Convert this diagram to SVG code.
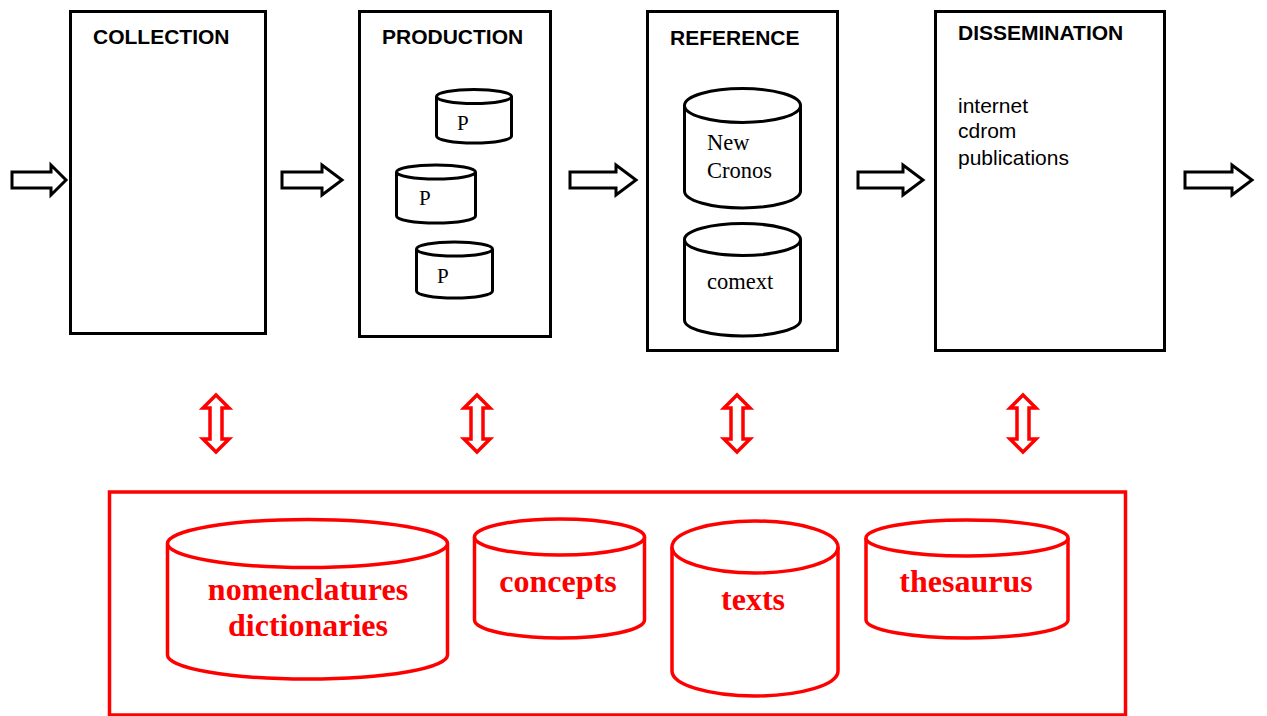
<svg xmlns="http://www.w3.org/2000/svg" width="1267" height="716" viewBox="0 0 1267 716">
<style>
.box{fill:#fff;stroke:#000;stroke-width:3}
.title{font-family:"Liberation Sans",Arial,sans-serif;font-weight:bold;font-size:21px;fill:#000}
.list{font-family:"Liberation Sans",Arial,sans-serif;font-size:21px;fill:#000}
.cyl{fill:#fff;stroke:#000;stroke-width:3}
.ctext{font-family:"Liberation Serif","Times New Roman",serif;font-size:22.5px;fill:#000}
.ptext{font-family:"Liberation Serif","Times New Roman",serif;font-size:21px;fill:#000}
.rcyl{fill:#fff;stroke:#f00;stroke-width:3.5}
.rtext{font-family:"Liberation Serif","Times New Roman",serif;font-weight:bold;font-size:32px;fill:#f00;text-anchor:middle}
.barrow{fill:#fff;stroke:#000;stroke-width:3;stroke-linejoin:miter}
.rarrow{fill:#fff;stroke:#f00;stroke-width:3.5;stroke-linejoin:miter}
</style>
<rect width="1267" height="716" fill="#fff"/>
<g id="collection">
<rect class="box" x="70.5" y="11.5" width="195" height="322"/>
<text class="title" x="93" y="44">COLLECTION</text>
</g>
<g id="production">
<rect class="box" x="359.5" y="11.5" width="191" height="325"/>
<text class="title" x="382" y="44">PRODUCTION</text>
<g id="p1">
<path class="cyl" d="M436.5,96.5 L436.5,136 A37.5,7 0 0 0 511.5,136 L511.5,96.5"/>
<ellipse class="cyl" cx="474" cy="96.5" rx="37.5" ry="7"/>
<text class="ptext" x="457" y="130">P</text>
</g>
<g id="p2">
<path class="cyl" d="M396.5,172 L396.5,216 A39.5,7 0 0 0 475.5,216 L475.5,172"/>
<ellipse class="cyl" cx="436" cy="172" rx="39.5" ry="7"/>
<text class="ptext" x="419" y="205">P</text>
</g>
<g id="p3">
<path class="cyl" d="M416.5,249 L416.5,291 A38,7 0 0 0 492.5,291 L492.5,249"/>
<ellipse class="cyl" cx="454.5" cy="249" rx="38" ry="7"/>
<text class="ptext" x="437" y="283">P</text>
</g>
</g>
<g id="reference">
<rect class="box" x="647.5" y="11.5" width="190" height="339"/>
<text class="title" x="670" y="45">REFERENCE</text>
<g id="newcronos">
<path class="cyl" d="M684.5,105.5 L684.5,191 A58,17 0 0 0 800.5,191 L800.5,105.5"/>
<ellipse class="cyl" cx="742.5" cy="105.5" rx="58" ry="17"/>
<text class="ctext" x="707" y="150">New</text>
<text class="ctext" x="707" y="178">Cronos</text>
</g>
<g id="comext">
<path class="cyl" d="M684.5,239.5 L684.5,320 A58,16 0 0 0 800.5,320 L800.5,239.5"/>
<ellipse class="cyl" cx="742.5" cy="239.5" rx="58" ry="16"/>
<text class="ctext" x="707" y="289">comext</text>
</g>
</g>
<g id="dissemination">
<rect class="box" x="935.5" y="11.5" width="229" height="339"/>
<text class="title" x="958" y="40">DISSEMINATION</text>
<text class="list" x="958" y="113">internet</text>
<text class="list" x="958" y="138">cdrom</text>
<text class="list" x="958" y="165">publications</text>
</g>
<g id="metadata">
<rect x="109.5" y="492" width="1016" height="223" fill="none" stroke="#f00" stroke-width="3.5"/>
<g id="nomenclatures">
<path class="rcyl" d="M167.5,543.5 L167.5,655 A140,24 0 0 0 447.5,655 L447.5,543.5"/>
<ellipse class="rcyl" cx="307.5" cy="543.5" rx="140" ry="24"/>
<text class="rtext" x="308" y="600">nomenclatures</text>
<text class="rtext" x="308" y="636">dictionaries</text>
</g>
<g id="concepts">
<path class="rcyl" d="M474.5,537 L474.5,620 A85,18 0 0 0 644.5,620 L644.5,537"/>
<ellipse class="rcyl" cx="559.5" cy="537" rx="85" ry="18"/>
<text class="rtext" x="558" y="592">concepts</text>
</g>
<g id="texts">
<path class="rcyl" d="M672,547 L672,671 A83,25 0 0 0 838,671 L838,547"/>
<ellipse class="rcyl" cx="755" cy="547" rx="83" ry="26"/>
<text class="rtext" x="753" y="610">texts</text>
</g>
<g id="thesaurus">
<path class="rcyl" d="M866,538 L866,620 A101,18 0 0 0 1068,620 L1068,538"/>
<ellipse class="rcyl" cx="967" cy="538" rx="101" ry="18"/>
<text class="rtext" x="966" y="592">thesaurus</text>
</g>
</g>
<g id="connectors">
<path class="barrow" d="M12,172 L51,172 L51,165 L66,180 L51,195 L51,188 L12,188 Z"/>
<path class="barrow" d="M282,172 L322,172 L322,165 L342,180 L322,195 L322,188 L282,188 Z"/>
<path class="barrow" d="M570,172 L616,172 L616,165 L636,180 L616,195 L616,188 L570,188 Z"/>
<path class="barrow" d="M858,172 L903,172 L903,165 L923,180 L903,195 L903,188 L858,188 Z"/>
<path class="barrow" d="M1185,172 L1232,172 L1232,165 L1252,180 L1232,195 L1232,188 L1185,188 Z"/>
<path class="rarrow" d="M216,395 L229,408 L222,408 L222,439 L229,439 L216,452 L203,439 L210,439 L210,408 L203,408 Z"/>
<path class="rarrow" d="M477,395 L490,408 L483,408 L483,439 L490,439 L477,452 L464,439 L471,439 L471,408 L464,408 Z"/>
<path class="rarrow" d="M737,395 L750,408 L743,408 L743,439 L750,439 L737,452 L724,439 L731,439 L731,408 L724,408 Z"/>
<path class="rarrow" d="M1023,395 L1036,408 L1029,408 L1029,439 L1036,439 L1023,452 L1010,439 L1017,439 L1017,408 L1010,408 Z"/>
</g>
</svg>
